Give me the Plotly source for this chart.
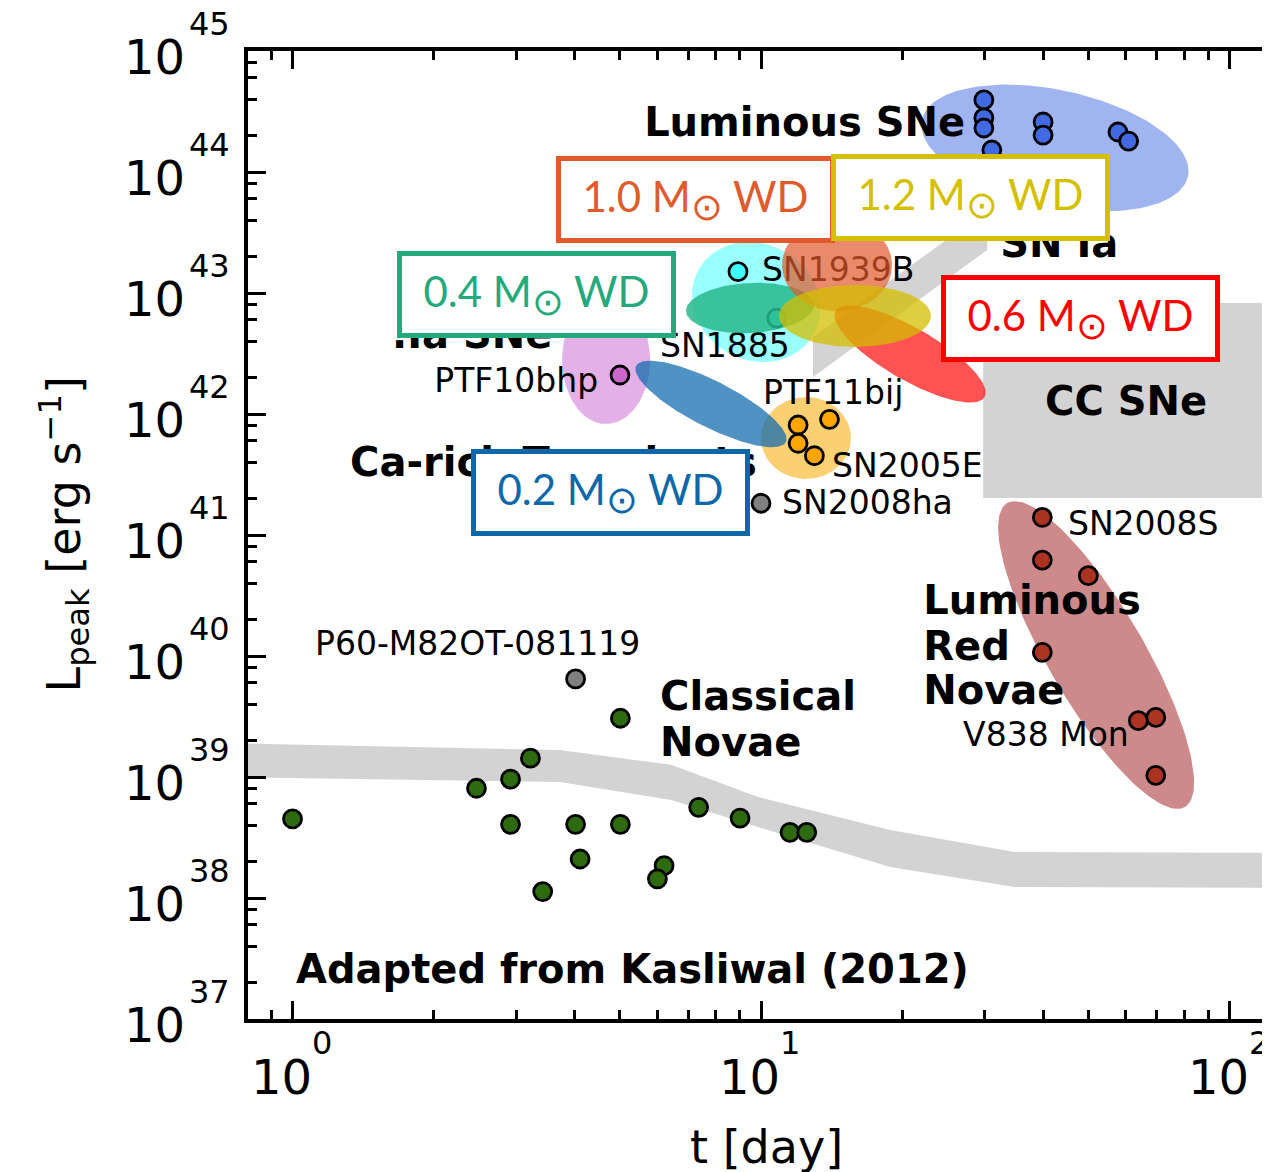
import numpy as np
import plotly.graph_objects as go

# ---------------- data ----------------
# Classical novae (green points)
novae_t = [1.0, 2.47, 2.92, 3.22, 2.92, 4.02, 5.01, 5.01, 4.11, 3.42, 6.21, 6.01, 7.36, 9.02, 11.53, 12.52]
novae_L = [4.50e38, 8.07e38, 9.6e38, 1.43e39, 4.06e38, 4.06e38, 4.06e38, 3.06e39,
           2.10e38, 1.13e38, 1.85e38, 1.44e38, 5.62e38, 4.58e38, 3.49e38, 3.49e38]

# Luminous SNe (blue points)
lumsn_t = [29.9, 29.9, 29.9, 31.1, 40.0, 40.0, 57.8, 60.9]
lumsn_L = [3.94e44, 2.80e44, 2.31e44, 1.52e44, 2.59e44, 2.02e44, 2.14e44, 1.80e44]

# Luminous red novae (brown points)
lrn_t = [39.85, 39.85, 49.96, 39.85, 63.9, 69.6, 69.6]
lrn_L = [1.40e41, 6.21e40, 4.61e40, 1.07e40, 2.92e39, 3.11e39, 1.03e39]

# Ca-rich transients (orange points)
carich_t = [12.0, 14.0, 12.0, 13.0]
carich_L = [8.11e41, 9.04e41, 5.73e41, 4.52e41]

# single objects
sn1939b_t, sn1939b_L = [8.93], [1.50e43]
sn1885_t, sn1885_L = [10.8], [6.21e42]
ptf10bhp_t, ptf10bhp_L = [5.00], [2.10e42]
sn2008ha_t, sn2008ha_L = [10.0], [1.83e41]
p60_t, p60_L = [4.02], [6.46e39]

# classical-novae gray band
band_t = [0.7, 3.72, 6.43, 9.85, 18.86, 34.8, 150.0]
band_L_hi = [1.91e39, 1.67e39, 1.26e39, 6.84e38, 3.65e38, 2.40e38, 2.36e38]
band_L_lo = [1.0e39, 9.1e38, 6.46e38, 3.86e38, 1.80e38, 1.23e38, 1.21e38]

# SN Ia gray band (parallelogram)
snia_t = [12.91, 30.4, 30.4, 12.91]
snia_L = [4.33e42, 4.85e43, 2.27e43, 2.02e42]

# CC SNe gray box
ccsn_t = [29.8, 120.2, 120.2, 29.8]
ccsn_L = [8.27e42, 8.27e42, 2.02e41, 2.02e41]

# tick labels (exponents of ten)
x_tick_exp = [0, 1, 2]
y_tick_exp = list(range(37, 46))

# ---------------- geometry / style ----------------
PAGE_OFF = 8                      # default body margin of the html page
FIG_W, FIG_H = 1270 - PAGE_OFF, 1172 - PAGE_OFF
M_L, M_T = 248 - PAGE_OFF, 51 - PAGE_OFF
PLOT_W, PLOT_H = FIG_W - M_L, 968
M_B = FIG_H - M_T - PLOT_H

XMIN, XMAX = -0.095, 2.0864
YMIN, YMAX = 37, 45
PXX = PLOT_W / (XMAX - XMIN)
PXY = PLOT_H / (YMAX - YMIN)


def ellipse(tc, Lc, a_px, b_px, ang_deg, n=160):
    s = np.linspace(0, 2 * np.pi, n)
    th = np.radians(ang_deg)
    u = a_px * np.cos(s)
    v = b_px * np.sin(s)
    dx = u * np.cos(th) - v * np.sin(th)
    dy = u * np.sin(th) + v * np.cos(th)
    return 10 ** (np.log10(tc) + dx / PXX), 10 ** (np.log10(Lc) - dy / PXY)


fig = go.Figure()
GRAY = "#d3d3d3"


def poly(xs, ys, color):
    fig.add_trace(go.Scatter(x=list(xs), y=list(ys), mode="lines", fill="toself",
                             fillcolor=color, line=dict(width=0, color=color),
                             hoverinfo="skip", showlegend=False))


# gray regions
poly(band_t + band_t[::-1], band_L_hi + band_L_lo[::-1], GRAY)
poly(snia_t, snia_L, GRAY)
poly(ccsn_t, ccsn_L, GRAY)

# original class ellipses
orig_ell = [
    (42.4, 1.579e44, 136, 58, 12, "rgba(65,105,225,0.5)"),
    (9.76, 8.43e42, 66, 58, 30, "rgba(0,255,255,0.4)"),
    (4.67, 2.795e42, 44, 64, 0, "rgba(200,100,210,0.5)"),
    (12.47, 6.33e41, 45, 41, 0, "rgba(245,170,0,0.55)"),
    (51.9, 1.019e40, 176, 48, 59.7, "rgba(165,42,42,0.55)"),
]
for tc, Lc, a, b, ang, col in orig_ell:
    ex, ey = ellipse(tc, Lc, a, b, ang)
    poly(ex, ey, col)


def pts(xs, ys, color):
    fig.add_trace(go.Scatter(x=xs, y=ys, mode="markers",
                             marker=dict(size=18, color=color, line=dict(color="black", width=2.8)),
                             hoverinfo="skip", showlegend=False))


pts(novae_t, novae_L, "#2d6a10")
pts(p60_t, p60_L, "#808080")
pts(lumsn_t, lumsn_L, "#4169e1")
pts(lrn_t, lrn_L, "#aa3322")
pts(carich_t, carich_L, "#ffa500")
pts(sn2008ha_t, sn2008ha_L, "#808080")
pts(ptf10bhp_t, ptf10bhp_L, "#cc66cc")
pts(sn1939b_t, sn1939b_L, "#40ffff")
pts(sn1885_t, sn1885_L, "#40ffff")

# labels
small_labels = [
    ("SN1939B", 10.05, 1.476e43, "middle right"),
    ("SN1885", 6.09, 3.48e42, "middle right"),
    ("PTF10bhp", 4.49, 1.79e42, "middle left"),
    ("PTF11bij", 10.1, 1.42e42, "middle right"),
    ("SN2005E", 14.18, 3.55e41, "middle right"),
    ("SN2008ha", 11.09, 1.75e41, "middle right"),
    ("SN2008S", 45.2, 1.175e41, "middle right"),
    ("V838 Mon", 27.0, 2.12e39, "middle right"),
    ("P60-M82OT-081119", 1.117, 1.198e40, "middle right"),
]
bold_labels = [
    ("Luminous SNe", 5.63, 2.40e44),
    ("SN Ia", 32.4, 2.38e43),
    (".Ia SNe", 1.631, 4.21e42),
    ("Ca-rich Transients", 1.327, 3.75e41),
    ("CC SNe", 40.4, 1.198e42),
    ("Classical", 6.09, 4.29e39),
    ("Novae", 6.09, 1.79e39),
    ("Luminous", 22.2, 2.67e40),
    ("Red", 22.2, 1.13e40),
    ("Novae", 22.2, 4.81e39),
    ("Adapted from Kasliwal (2012)", 1.017, 2.42e37),
]
fig.add_trace(go.Scatter(
    x=[l[1] for l in small_labels], y=[l[2] for l in small_labels],
    text=[l[0] for l in small_labels], textposition=[l[3] for l in small_labels],
    mode="text", textfont=dict(family="DejaVu Sans", size=33, color="black"),
    hoverinfo="skip", showlegend=False))
fig.add_trace(go.Scatter(
    x=[l[1] for l in bold_labels], y=[l[2] for l in bold_labels],
    text=[l[0] for l in bold_labels], textposition="middle right",
    mode="text", textfont=dict(family="DejaVu Sans", size=40, color="black", weight="bold"),
    hoverinfo="skip", showlegend=False))

# WD overlay ellipses (drawn above)
wd_ell = [
    (9.47, 7.52e42, 64, 25, -3, "rgba(40,185,140,0.85)"),
    (14.53, 1.70e43, 55, 46, 0, "rgba(224,90,44,0.7)"),
    (20.8, 3.13e42, 86, 26, 30, "rgba(255,0,0,0.68)"),
    (7.82, 1.21e42, 84, 23, 27, "rgba(20,110,175,0.75)"),
    (15.87, 6.46e42, 76, 31, 0, "rgba(212,190,0,0.75)"),
]
for tc, Lc, a, b, ang, col in wd_ell:
    ex, ey = ellipse(tc, Lc, a, b, ang)
    poly(ex, ey, col)

# WD boxes
wd_boxes = [
    ("1.0", 0.8602, 43.7769, "#e05a2b"),
    ("1.2", 1.4461, 43.7893, "#d4bf00"),
    ("0.4", 0.5208, 42.9917, "#23a97a"),
    ("0.6", 1.6809, 42.7934, "#ff0000"),
    ("0.2", 0.6777, 41.3554, "#0c68a8"),
]
for m, lx, ly, col in wd_boxes:
    fig.add_annotation(x=lx, y=ly, xref="x", yref="y",
                       text=f"{m} M<sub><span style=\"font-size:38px\">⊙</span></sub> WD",
                       showarrow=False,
                       font=dict(family="Lato", size=42, color=col),
                       bgcolor="white", bordercolor=col, borderwidth=5, borderpad=0,
                       width=269, height=77, align="center", valign="middle",
                       xanchor="center", yanchor="middle")

# tick labels drawn as text (10 with a raised exponent)
TICK_F, EXP_F = 48, 32
for e in x_tick_exp:
    fig.add_annotation(x=e, xref="x", y=0, yref="paper", text="10", showarrow=False,
                       font=dict(size=TICK_F, color="black"), xanchor="right", xshift=20,
                       yanchor="middle", yshift=-58, borderpad=0)
    fig.add_annotation(x=e, xref="x", y=0, yref="paper", text=str(e), showarrow=False,
                       font=dict(size=EXP_F, color="black"), xanchor="left", xshift=18,
                       yanchor="middle", yshift=-23.5, borderpad=0)
for e in y_tick_exp:
    fig.add_annotation(x=0, xref="paper", y=e, yref="y", text="10", showarrow=False,
                       font=dict(size=TICK_F, color="black"), xanchor="right", xshift=-62,
                       yanchor="middle", yshift=-6, borderpad=0)
    fig.add_annotation(x=0, xref="paper", y=e, yref="y", text=str(e), showarrow=False,
                       font=dict(size=EXP_F, color="black"), xanchor="left", xshift=-60,
                       yanchor="middle", yshift=27, borderpad=0)

# axis titles
fig.add_annotation(x=0.5, xref="paper", y=0, yref="paper", text="t [day]", showarrow=False,
                   font=dict(size=46, color="black"), xanchor="center", xshift=7,
                   yanchor="middle", yshift=-128, borderpad=0)
fig.add_annotation(x=0, xref="paper", y=0.5, yref="paper",
                   text="L<sub>peak</sub> [erg s<sup>−1</sup>]", showarrow=False,
                   font=dict(size=46, color="black"), textangle=-90,
                   xanchor="center", xshift=-184.5, yanchor="middle", borderpad=0)

xt = [10.0 ** e for e in x_tick_exp]
yt = [10.0 ** e for e in y_tick_exp]
x_minor = [k * 10.0 ** n for n in range(-1, 3) for k in range(2, 10)]
y_minor = [k * 10.0 ** n for n in range(37, 45) for k in (2, 4, 6, 8)]

fig.update_layout(
    width=FIG_W, height=FIG_H,
    margin=dict(l=M_L, r=0, t=M_T, b=M_B, autoexpand=False),
    plot_bgcolor="white", paper_bgcolor="white",
    showlegend=False,
    font=dict(family="DejaVu Sans", color="black"),
    xaxis=dict(type="log", range=[XMIN, XMAX], tickmode="array", tickvals=xt,
               showticklabels=False,
               ticks="inside", ticklen=18, tickwidth=3, tickcolor="black",
               showline=True, linewidth=4, linecolor="black", mirror="ticks",
               showgrid=False, zeroline=False,
               minor=dict(tickvals=x_minor, ticks="inside", ticklen=9, tickwidth=3,
                          tickcolor="black", showgrid=False),
               automargin=False),
    yaxis=dict(type="log", range=[YMIN, YMAX], tickmode="array", tickvals=yt,
               showticklabels=False,
               ticks="inside", ticklen=18, tickwidth=3, tickcolor="black",
               showline=True, linewidth=4, linecolor="black", mirror=False,
               showgrid=False, zeroline=False,
               minor=dict(tickvals=y_minor, ticks="inside", ticklen=9, tickwidth=3,
                          tickcolor="black", showgrid=False),
               automargin=False),
    yaxis2=dict(overlaying="y", side="right", anchor="x", type="log", range=[YMIN, YMAX],
                tickmode="array", tickvals=yt, ticks="inside", ticklen=8, tickwidth=3,
                tickcolor="black", showticklabels=False, showline=False,
                showgrid=False, zeroline=False),
)
fig.add_trace(go.Scatter(x=[], y=[], yaxis="y2", showlegend=False, hoverinfo="skip"))

fig.write_html("out.html")
